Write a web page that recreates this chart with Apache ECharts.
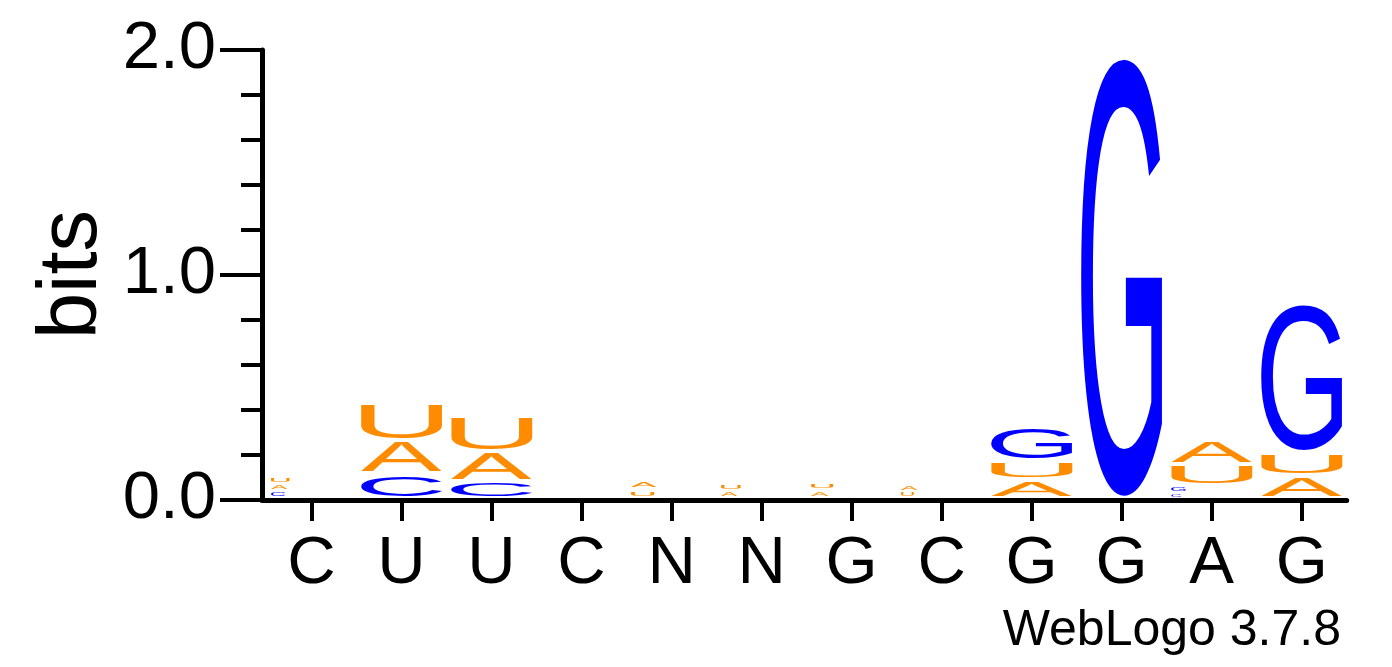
<!DOCTYPE html>
<html><head><meta charset="utf-8">
<script src="https://cdn.jsdelivr.net/npm/echarts@6/dist/echarts.min.js"></script>
<style>html,body{margin:0;padding:0;background:#fff}#c{width:1392px;height:667px}</style>
</head><body><div id="c"></div>
<script>
// ---- data ----
const categories = ['C','U','U','C','N','N','G','C','G','G','A','G'];
const yTickLabels = ['0.0','1.0','2.0'];
const bases = ['A','C','G','U'];
const heightA = [0.032, 0.148, 0.132, 0, 0.040, 0.032, 0.033, 0.032, 0.081, 0,     0.108, 0.100];
const heightC = [0.030, 0.108, 0.076, 0, 0,     0,     0,     0,     0,     0,     0.025, 0];
const heightG = [0,     0,     0,     0, 0,     0,     0,     0,     0.151, 1.961, 0.030, 0.661];
const heightU = [0.034, 0.168, 0.158, 0, 0.038, 0.035, 0.037, 0.028, 0.083, 0,     0.096, 0.102];
const heights = {A: heightA, C: heightC, G: heightG, U: heightU};
const baseColors = {A: '#FF8C00', U: '#FF8C00', C: '#0000FF', G: '#0000FF'};

const FAMILY = '"Liberation Sans", Arial, Helvetica, sans-serif';
const GLYPH_FONT = '200px ' + FAMILY;

// measure glyph ink bounds (middle baseline, left align) so letters can be stretched to boxes
const ctx = document.createElement('canvas').getContext('2d');
ctx.font = GLYPH_FONT; ctx.textBaseline = 'middle'; ctx.textAlign = 'left';
const metrics = {};
bases.forEach(b => {
  const m = ctx.measureText(b);
  metrics[b] = {L: m.actualBoundingBoxLeft, R: m.actualBoundingBoxRight,
                A: m.actualBoundingBoxAscent, D: m.actualBoundingBoxDescent};
});

const totals = categories.map((c, i) => bases.reduce((s, b) => s + heights[b][i], 0));
const colIdx = categories.map((c, i) => i);

const BASE_OFF = 2;   // px the stack sits above axis line center
const PAD = 2.2;      // px vertical margin inside each letter box

function renderItem(params, api) {
  const i = api.value(0);
  const colW = api.size([1, 0])[0];
  const glyphW = colW * 0.9;
  const cx = api.coord([i, 0])[0];
  const left = cx - glyphW / 2;
  const list = bases.filter(b => heights[b][i] > 0)
                    .map(b => ({b, h: heights[b][i]}))
                    .sort((p, q) => p.h - q.h);
  let cum = 0;
  const children = [];
  list.forEach(({b, h}) => {
    const yb = api.coord([i, cum])[1] - BASE_OFF;
    const yt = api.coord([i, cum + h])[1] - BASE_OFF;
    cum += h;
    const hpx = yb - yt;
    const pad = Math.min(PAD, hpx * 0.25);
    const gTop = yt + pad, gh = (yb - pad) - gTop;
    const wf = Math.min(1, Math.pow(hpx / 16, 2));
    const gw = glyphW * wf;
    const m = metrics[b];
    const sx = gw / (m.L + m.R), sy = gh / (m.A + m.D);
    children.push({
      type: 'text', silent: true,
      x: left + m.L * sx, y: gTop + m.A * sy, scaleX: sx, scaleY: sy,
      style: {text: b, font: GLYPH_FONT, fill: baseColors[b],
              align: 'left', verticalAlign: 'middle',
              textAlign: 'left', textVerticalAlign: 'middle'}
    });
  });
  return {type: 'group', children};
}

const chart = echarts.init(document.getElementById('c'), null, {renderer: 'canvas'});
chart.setOption({
  animation: false,
  backgroundColor: '#fff',
  grid: {left: 262, right: 45.3, top: 50, bottom: 167, containLabel: false},
  xAxis: {
    type: 'value', min: -0.55, max: 11.5,
    splitLine: {show: false},
    axisLine: {show: true, onZero: false, lineStyle: {color: '#000', width: 5}},
    axisTick: {show: true, customValues: colIdx, length: 21, lineStyle: {color: '#000', width: 4}},
    minorTick: {show: false},
    axisLabel: {show: true, customValues: colIdx, formatter: v => categories[Math.round(v)],
                fontSize: 67, fontFamily: FAMILY, color: '#000', margin: 31}
  },
  yAxis: {
    type: 'value', min: 0, max: 2, interval: 1,
    splitLine: {show: false}, minorSplitLine: {show: false},
    axisLine: {show: true, onZero: false, lineStyle: {color: '#000', width: 5}},
    axisTick: {show: true, length: 42, lineStyle: {color: '#000', width: 4}},
    minorTick: {show: true, splitNumber: 5, length: 21, lineStyle: {color: '#000', width: 4}},
    axisLabel: {formatter: v => yTickLabels[Math.round(v)], fontSize: 67, fontFamily: FAMILY,
                color: '#000', margin: 46}
  },
  graphic: [
    {type: 'text', x: 73, y: 274.5, rotation: Math.PI / 2, silent: true,
     style: {text: 'bits', font: '83px ' + FAMILY, fill: '#000', align: 'center', verticalAlign: 'middle',
             textAlign: 'center', textVerticalAlign: 'middle'}},
    {type: 'text', x: 1341, y: 631, silent: true,
     style: {text: 'WebLogo 3.7.8', font: '50px ' + FAMILY, fill: '#000', align: 'right', verticalAlign: 'middle',
             textAlign: 'right', textVerticalAlign: 'middle'}}
  ],
  series: [{
    type: 'custom', coordinateSystem: 'cartesian2d', clip: false,
    data: colIdx.map(i => [i, totals[i]]),
    encode: {x: 0, y: 1},
    renderItem: renderItem
  }]
});
</script></body></html>
